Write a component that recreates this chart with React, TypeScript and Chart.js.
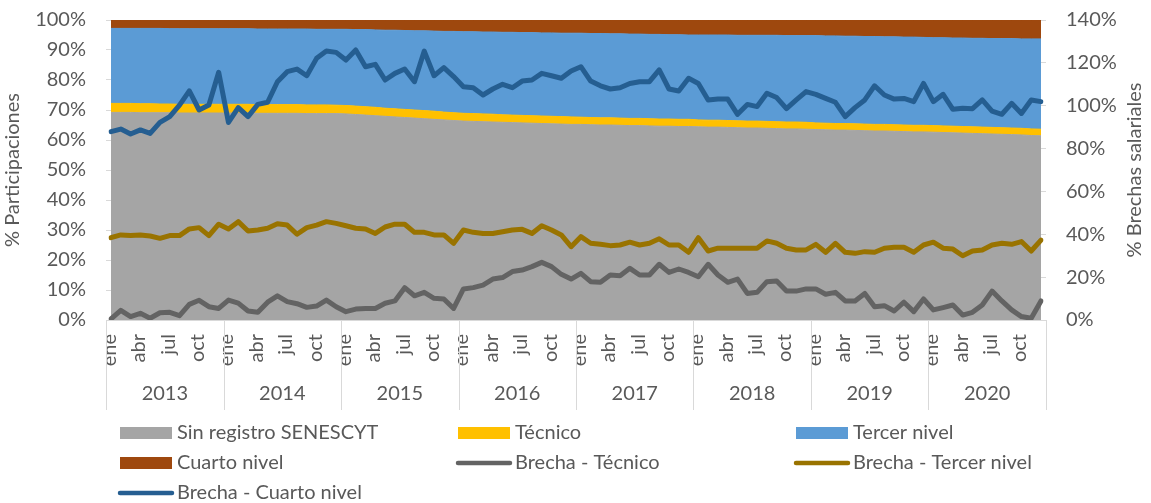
import { useEffect, useRef } from 'react';
import { Chart, registerables } from 'chart.js';

Chart.register(...registerables);

const years = ['2013', '2014', '2015', '2016', '2017', '2018', '2019', '2020'];
const months = ['ene', 'feb', 'mar', 'abr', 'may', 'jun', 'jul', 'ago', 'sep', 'oct', 'nov', 'dic'];
const shownMonths = ['ene', 'abr', 'jul', 'oct'];
const categories = years.flatMap((y) => months.map((m) => `${m} ${y}`));

// % participaciones (left axis, stacked to 100%)
const sinRegistro = [
  69.2, 69.2, 69.2, 69.1, 69.1, 69.1, 69.1, 69.0, 69.0, 69.0, 69.0, 69.0,
  69.0, 69.0, 69.0, 68.9, 68.9, 68.9, 68.9, 68.9, 68.8, 68.8, 68.8, 68.8,
  68.7, 68.5, 68.3, 68.1, 67.9, 67.7, 67.5, 67.3, 67.1, 66.9, 66.7, 66.5,
  66.3, 66.2, 66.1, 66.0, 65.9, 65.8, 65.7, 65.6, 65.5, 65.4, 65.3, 65.2,
  65.2, 65.1, 65.0, 65.0, 64.9, 64.8, 64.8, 64.7, 64.6, 64.6, 64.5, 64.5,
  64.4, 64.3, 64.3, 64.2, 64.1, 64.0, 64.0, 63.9, 63.8, 63.7, 63.7, 63.6,
  63.5, 63.4, 63.3, 63.3, 63.2, 63.1, 63.0, 63.0, 62.9, 62.8, 62.7, 62.7,
  62.6, 62.5, 62.4, 62.3, 62.2, 62.1, 62.0, 61.9, 61.8, 61.7, 61.5, 61.4,
];
const tecnico = [
  3.0, 3.0, 3.0, 3.0, 3.0, 2.9, 2.9, 2.9, 2.9, 2.9, 2.9, 2.9,
  2.9, 2.9, 2.9, 2.9, 2.9, 2.9, 2.9, 2.9, 2.9, 2.9, 2.9, 2.8,
  2.8, 2.8, 2.8, 2.8, 2.7, 2.7, 2.7, 2.7, 2.7, 2.7, 2.6, 2.6,
  2.6, 2.6, 2.6, 2.6, 2.5, 2.5, 2.5, 2.5, 2.5, 2.5, 2.5, 2.5,
  2.4, 2.4, 2.4, 2.4, 2.4, 2.4, 2.4, 2.4, 2.4, 2.4, 2.4, 2.4,
  2.3, 2.3, 2.3, 2.3, 2.3, 2.3, 2.3, 2.3, 2.3, 2.3, 2.3, 2.3,
  2.2, 2.2, 2.2, 2.2, 2.2, 2.2, 2.2, 2.2, 2.2, 2.2, 2.2, 2.2,
  2.2, 2.2, 2.2, 2.2, 2.2, 2.2, 2.2, 2.2, 2.2, 2.2, 2.2, 2.2,
];
const tercerNivel = [
  25.0, 25.0, 25.0, 25.1, 25.1, 25.2, 25.1, 25.2, 25.2, 25.2, 25.2, 25.2,
  25.2, 25.2, 25.2, 25.2, 25.2, 25.2, 25.2, 25.2, 25.3, 25.2, 25.2, 25.3,
  25.4, 25.5, 25.7, 25.8, 26.0, 26.2, 26.3, 26.4, 26.6, 26.7, 26.9, 27.1,
  27.2, 27.3, 27.3, 27.4, 27.5, 27.6, 27.6, 27.7, 27.7, 27.8, 27.8, 27.9,
  28.0, 28.0, 28.1, 28.0, 28.1, 28.1, 28.1, 28.1, 28.2, 28.1, 28.2, 28.1,
  28.3, 28.4, 28.4, 28.5, 28.5, 28.6, 28.6, 28.7, 28.8, 28.8, 28.8, 28.9,
  29.1, 29.1, 29.2, 29.1, 29.2, 29.2, 29.3, 29.2, 29.3, 29.3, 29.4, 29.3,
  29.3, 29.4, 29.4, 29.5, 29.5, 29.6, 29.6, 29.7, 29.8, 29.8, 30.0, 30.1,
];
const cuartoNivel = [
  2.8, 2.8, 2.8, 2.8, 2.8, 2.8, 2.9, 2.9, 2.9, 2.9, 2.9, 2.9,
  2.9, 2.9, 2.9, 3.0, 3.0, 3.0, 3.0, 3.0, 3.0, 3.1, 3.1, 3.1,
  3.1, 3.2, 3.2, 3.3, 3.4, 3.4, 3.5, 3.6, 3.6, 3.7, 3.8, 3.8,
  3.9, 3.9, 4.0, 4.0, 4.1, 4.1, 4.2, 4.2, 4.3, 4.3, 4.4, 4.4,
  4.4, 4.5, 4.5, 4.6, 4.6, 4.7, 4.7, 4.8, 4.8, 4.9, 4.9, 5.0,
  5.0, 5.0, 5.0, 5.0, 5.1, 5.1, 5.1, 5.1, 5.1, 5.2, 5.2, 5.2,
  5.2, 5.3, 5.3, 5.4, 5.4, 5.5, 5.5, 5.6, 5.6, 5.7, 5.7, 5.8,
  5.9, 5.9, 6.0, 6.0, 6.1, 6.1, 6.2, 6.2, 6.2, 6.3, 6.3, 6.3,
];

// % brechas salariales (right axis)
const brechaTecnico = [
  0.5, 4.5, 1.6, 3.1, 0.8, 3.4, 3.6, 2.0, 7.3, 9.2, 6.2, 5.4,
  9.3, 7.9, 4.2, 3.6, 8.3, 11.3, 8.6, 7.6, 5.9, 6.5, 9.3, 6.2,
  3.9, 5.1, 5.4, 5.4, 7.8, 8.9, 15.1, 11.3, 12.9, 10.1, 9.8, 5.4,
  14.5, 15.1, 16.3, 19.1, 19.8, 22.6, 23.3, 24.9, 26.9, 24.9, 21.3, 19.1,
  21.8, 17.9, 17.6, 21.0, 20.7, 24.1, 21.0, 21.0, 26.0, 22.2, 23.8, 22.2,
  20.2, 26.0, 21.0, 17.6, 19.1, 12.4, 12.9, 17.9, 18.2, 13.5, 13.5, 14.5,
  14.5, 12.0, 12.9, 8.9, 8.9, 12.4, 6.2, 6.7, 4.2, 8.3, 3.9, 9.8,
  4.7, 5.8, 7.0, 2.3, 3.6, 7.0, 13.5, 8.9, 4.7, 1.6, 0.8, 8.9,
];
const brechaTercer = [
  38.4, 39.7, 39.4, 39.7, 39.2, 38.1, 39.4, 39.4, 42.5, 43.1, 39.4, 44.7,
  42.5, 45.9, 41.5, 42.0, 42.8, 44.9, 44.3, 40.0, 43.1, 44.3, 45.9, 45.1,
  44.0, 42.8, 42.5, 40.4, 43.4, 44.7, 44.7, 40.9, 40.9, 39.7, 39.7, 35.8,
  42.0, 40.9, 40.4, 40.4, 41.2, 42.0, 42.3, 40.4, 44.0, 42.0, 39.7, 34.2,
  38.9, 35.8, 35.3, 34.7, 35.0, 36.3, 35.0, 35.8, 37.9, 35.0, 35.0, 31.6,
  38.4, 32.2, 33.5, 33.5, 33.5, 33.5, 33.5, 36.9, 35.8, 33.5, 32.7, 32.7,
  35.3, 31.6, 35.8, 31.6, 31.1, 31.9, 31.6, 33.5, 33.9, 33.9, 31.6, 35.0,
  36.3, 33.5, 33.1, 30.0, 32.2, 32.7, 35.0, 35.8, 35.3, 36.6, 32.2, 37.3,
];
const brechaCuarto = [
  87.9, 89.1, 86.8, 88.7, 87.1, 92.2, 94.9, 100.3, 106.9, 98.0, 100.3, 115.6,
  92.2, 99.1, 94.9, 100.6, 101.6, 111.2, 115.9, 117.1, 114.0, 122.1, 125.5, 124.9,
  121.3, 126.0, 118.2, 119.3, 112.0, 115.1, 117.1, 111.2, 125.5, 114.0, 117.8, 113.6,
  108.9, 108.4, 105.0, 107.8, 110.0, 108.4, 111.5, 112.0, 115.1, 114.0, 112.8, 116.2,
  118.2, 111.5, 109.3, 107.8, 108.4, 110.4, 111.2, 111.2, 116.7, 107.8, 106.9, 112.8,
  110.4, 102.7, 103.1, 103.1, 96.0, 100.6, 99.6, 105.8, 103.8, 98.6, 102.7, 106.6,
  105.3, 103.4, 101.6, 94.9, 99.1, 102.7, 109.3, 105.0, 103.1, 103.4, 101.9, 110.4,
  101.9, 105.3, 98.3, 98.8, 98.6, 102.7, 97.5, 96.0, 101.1, 96.4, 102.7, 101.9,
];

const FONT = 'Lato, "Noto Sans", sans-serif';
const FS = 20;
const TEXT = '#595959';
const GRID = '#D9D9D9';

const areaDs = (label: string, data: number[], color: string, fill: string) => ({
  type: 'line' as const,
  label,
  data,
  yAxisID: 'y',
  backgroundColor: color,
  borderColor: color,
  borderWidth: 1,
  pointRadius: 0,
  tension: 0,
  fill,
  order: 1,
  kind: 'box',
});
const lineDs = (label: string, data: number[], color: string) => ({
  type: 'line' as const,
  label,
  data,
  yAxisID: 'y1',
  borderColor: color,
  backgroundColor: color,
  borderWidth: 5,
  borderJoinStyle: 'round' as const,
  borderCapStyle: 'round' as const,
  pointRadius: 0,
  tension: 0,
  fill: false,
  order: 0,
  kind: 'line',
});

const decorPlugin = {
  id: 'decor',
  afterDraw(chart: any) {
    const ctx = chart.ctx as CanvasRenderingContext2D;
    const xs = chart.scales.x;
    const area = chart.chartArea;
    ctx.save();
    ctx.fillStyle = TEXT;
    ctx.font = `${FS}px ${FONT}`;

    // month labels (rotated)
    categories.forEach((_c, i) => {
      const m = months[i % 12];
      if (!shownMonths.includes(m)) return;
      const px = xs.getPixelForValue(i);
      ctx.save();
      ctx.translate(px + 5, area.bottom + 14);
      ctx.rotate(-Math.PI / 2);
      ctx.textAlign = 'right';
      ctx.textBaseline = 'alphabetic';
      ctx.fillText(m, 0, 0);
      ctx.restore();
    });

    // year separators
    ctx.strokeStyle = GRID;
    ctx.lineWidth = 1;
    for (let k = 0; k <= years.length; k++) {
      const px = Math.round(xs.getPixelForValue(12 * k - 0.5)) + 0.5;
      ctx.beginPath();
      ctx.moveTo(px, area.bottom);
      ctx.lineTo(px, area.bottom + 90);
      ctx.stroke();
    }
    // year labels
    ctx.textAlign = 'center';
    ctx.textBaseline = 'middle';
    years.forEach((y, k) => {
      const cx = xs.getPixelForValue(12 * k + 5.5);
      ctx.fillText(y, cx, area.bottom + 74);
    });

    // axis titles
    const midY = (area.top + area.bottom) / 2;
    ctx.save();
    ctx.translate(13, midY);
    ctx.rotate(-Math.PI / 2);
    ctx.fillText('% Participaciones', 0, 0);
    ctx.restore();
    ctx.save();
    ctx.translate(1135, midY);
    ctx.rotate(-Math.PI / 2);
    ctx.fillText('% Brechas salariales', 0, 0);
    ctx.restore();

    // legend
    const colX = [120, 458, 796];
    const rowY = [433, 463, 493];
    ctx.textAlign = 'left';
    chart.data.datasets.forEach((ds: any, i: number) => {
      const x = colX[i % 3];
      const y = rowY[Math.floor(i / 3)];
      if (ds.kind === 'box') {
        ctx.fillStyle = ds.backgroundColor;
        ctx.fillRect(x, y - 6, 52, 12);
      } else {
        ctx.strokeStyle = ds.borderColor;
        ctx.lineWidth = 4.5;
        ctx.lineCap = 'round';
        ctx.beginPath();
        ctx.moveTo(x, y);
        ctx.lineTo(x + 52, y);
        ctx.stroke();
      }
      ctx.fillStyle = TEXT;
      ctx.fillText(ds.label, x + 57, y);
    });
    ctx.restore();
  },
};

const fitVertical = (width: number) => (s: any) => {
  s.width = width;
  s.paddingTop = 12;
  s.paddingBottom = 12;
};

export default function App() {
  const ref = useRef<HTMLCanvasElement | null>(null);
  useEffect(() => {
    if (!ref.current) return;
    const chart = new Chart(ref.current, {
      type: 'line',
      data: {
        labels: categories,
        datasets: [
          areaDs('Sin registro SENESCYT', sinRegistro, '#A5A5A5', 'origin'),
          areaDs('Técnico', tecnico, '#FFC000', '-1'),
          areaDs('Tercer nivel', tercerNivel, '#5B9BD5', '-1'),
          areaDs('Cuarto nivel', cuartoNivel, '#9E480E', '-1'),
          lineDs('Brecha - Técnico', brechaTecnico, '#636363'),
          lineDs('Brecha - Tercer nivel', brechaTercer, '#997300'),
          lineDs('Brecha - Cuarto nivel', brechaCuarto, '#255E91'),
        ] as any,
      },
      options: {
        animation: false,
        responsive: false,
        devicePixelRatio: 1,
        layout: { padding: { top: 20, left: 0, right: 0, bottom: 0 } },
        plugins: { legend: { display: false }, tooltip: { enabled: false } },
        scales: {
          x: {
            type: 'category',
            offset: false,
            ticks: { display: false },
            grid: { display: false },
            border: { display: true, color: GRID },
            afterFit: (s: any) => {
              s.height = 183;
            },
          },
          y: {
            position: 'left',
            stacked: true,
            min: 0,
            max: 100,
            ticks: {
              stepSize: 10,
              callback: (v: any) => `${v}%`,
              color: TEXT,
              font: { family: FONT, size: FS },
              padding: 20,
            },
            grid: { drawOnChartArea: false, drawTicks: true, tickLength: 5, color: GRID },
            border: { display: false },
            afterFit: fitVertical(111),
          },
          y1: {
            position: 'right',
            stacked: false,
            min: 0,
            max: 140,
            ticks: {
              stepSize: 20,
              callback: (v: any) => `${v}%`,
              color: TEXT,
              font: { family: FONT, size: FS },
              padding: 20,
            },
            grid: { drawOnChartArea: false, drawTicks: true, tickLength: 5, color: GRID },
            border: { display: false },
            afterFit: fitVertical(110),
          },
        },
      } as any,
      plugins: [decorPlugin],
    });
    return () => chart.destroy();
  }, []);
  return (
    <div style={{ position: 'fixed', left: 0, top: 0, width: 1151, height: 503, background: '#fff' }}>
      <canvas ref={ref} width={1151} height={503} style={{ width: 1151, height: 503, display: 'block' }} />
    </div>
  );
}
